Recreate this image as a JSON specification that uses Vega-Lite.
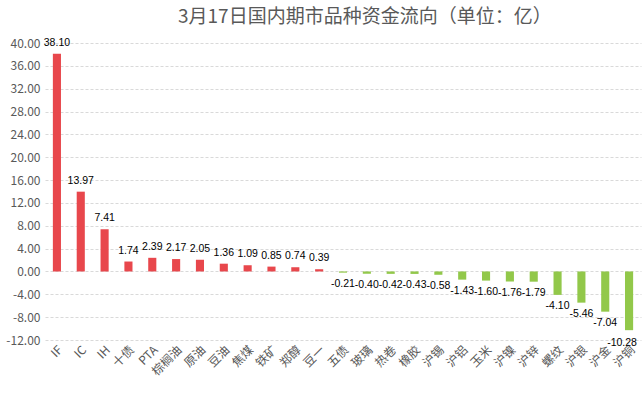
{
  "$schema": "https://vega.github.io/schema/vega-lite/v6.json",
  "autosize": "none",
  "width": 596,
  "height": 297,
  "padding": {"left": 45, "top": 43, "right": 3, "bottom": 57},
  "background": "white",
  "title": {
    "text": "3月17日国内期市品种资金流向（单位：亿）",
    "font": "Noto Sans CJK SC",
    "fontSize": 19,
    "fontWeight": "normal",
    "color": "#595959",
    "anchor": "start",
    "frame": "group",
    "dx": 133,
    "offset": 10
  },
  "config": {
    "view": {"stroke": null},
    "font": "Noto Sans CJK SC"
  },
  "data": {
    "values": [
      {"name": "IF", "v": 38.10},
      {"name": "IC", "v": 13.97},
      {"name": "IH", "v": 7.41},
      {"name": "十债", "v": 1.74},
      {"name": "PTA", "v": 2.39},
      {"name": "棕榈油", "v": 2.17},
      {"name": "原油", "v": 2.05},
      {"name": "豆油", "v": 1.36},
      {"name": "焦煤", "v": 1.09},
      {"name": "铁矿", "v": 0.85},
      {"name": "郑醇", "v": 0.74},
      {"name": "豆一", "v": 0.39},
      {"name": "五债", "v": -0.21},
      {"name": "玻璃", "v": -0.40},
      {"name": "热卷", "v": -0.42},
      {"name": "橡胶", "v": -0.43},
      {"name": "沪锡", "v": -0.58},
      {"name": "沪铝", "v": -1.43},
      {"name": "玉米", "v": -1.60},
      {"name": "沪镍", "v": -1.76},
      {"name": "沪锌", "v": -1.79},
      {"name": "螺纹", "v": -4.10},
      {"name": "沪银", "v": -5.46},
      {"name": "沪金", "v": -7.04},
      {"name": "沪铜", "v": -10.28}
    ]
  },
  "transform": [
    {"calculate": "replace(format(datum.v, '.2f'), '\u2212', '-')", "as": "lbl"}
  ],
  "encoding": {
    "x": {
      "field": "name",
      "type": "nominal",
      "sort": null,
      "scale": {"paddingInner": 0.66, "paddingOuter": 0.33},
      "axis": {
        "title": null,
        "labelAngle": -45,
        "labelFontSize": 12,
        "labelColor": "#595959",
        "labelFont": "Noto Sans CJK SC",
        "domain": false,
        "ticks": false,
        "labelPadding": 4
      }
    },
    "y": {
      "field": "v",
      "type": "quantitative",
      "scale": {"domain": [-12, 40], "nice": false},
      "axis": {
        "title": null,
        "values": [-12, -8, -4, 0, 4, 8, 12, 16, 20, 24, 28, 32, 36, 40],
        "format": ".2f",
        "labelExpr": "replace(datum.label, '\u2212', '-')",
        "labelFontSize": 12,
        "labelColor": "#595959",
        "domain": false,
        "ticks": false,
        "labelPadding": 5,
        "gridColor": "#d9d9d9",
        "gridDash": [3, 2]
      }
    }
  },
  "layer": [
    {
      "mark": {"type": "bar"},
      "encoding": {
        "color": {
          "condition": {"test": "datum.v >= 0", "value": "#e8474c"},
          "value": "#92c84a"
        }
      }
    },
    {
      "transform": [{"filter": "datum.v >= 0"}],
      "mark": {"type": "text", "baseline": "bottom", "dy": -6, "fontSize": 10.5, "font": "Liberation Sans", "color": "#000000"},
      "encoding": {"text": {"field": "lbl", "type": "nominal"}}
    },
    {
      "transform": [{"filter": "datum.v < 0 && datum.v > -10"}],
      "mark": {"type": "text", "baseline": "top", "dy": 6, "fontSize": 10.5, "font": "Liberation Sans", "color": "#000000"},
      "encoding": {"text": {"field": "lbl", "type": "nominal"}}
    },
    {
      "transform": [{"filter": "datum.v <= -10"}],
      "mark": {"type": "text", "baseline": "top", "dy": 8, "dx": -7, "fontSize": 10.5, "font": "Liberation Sans", "color": "#000000"},
      "encoding": {"text": {"field": "lbl", "type": "nominal"}}
    }
  ]
}
